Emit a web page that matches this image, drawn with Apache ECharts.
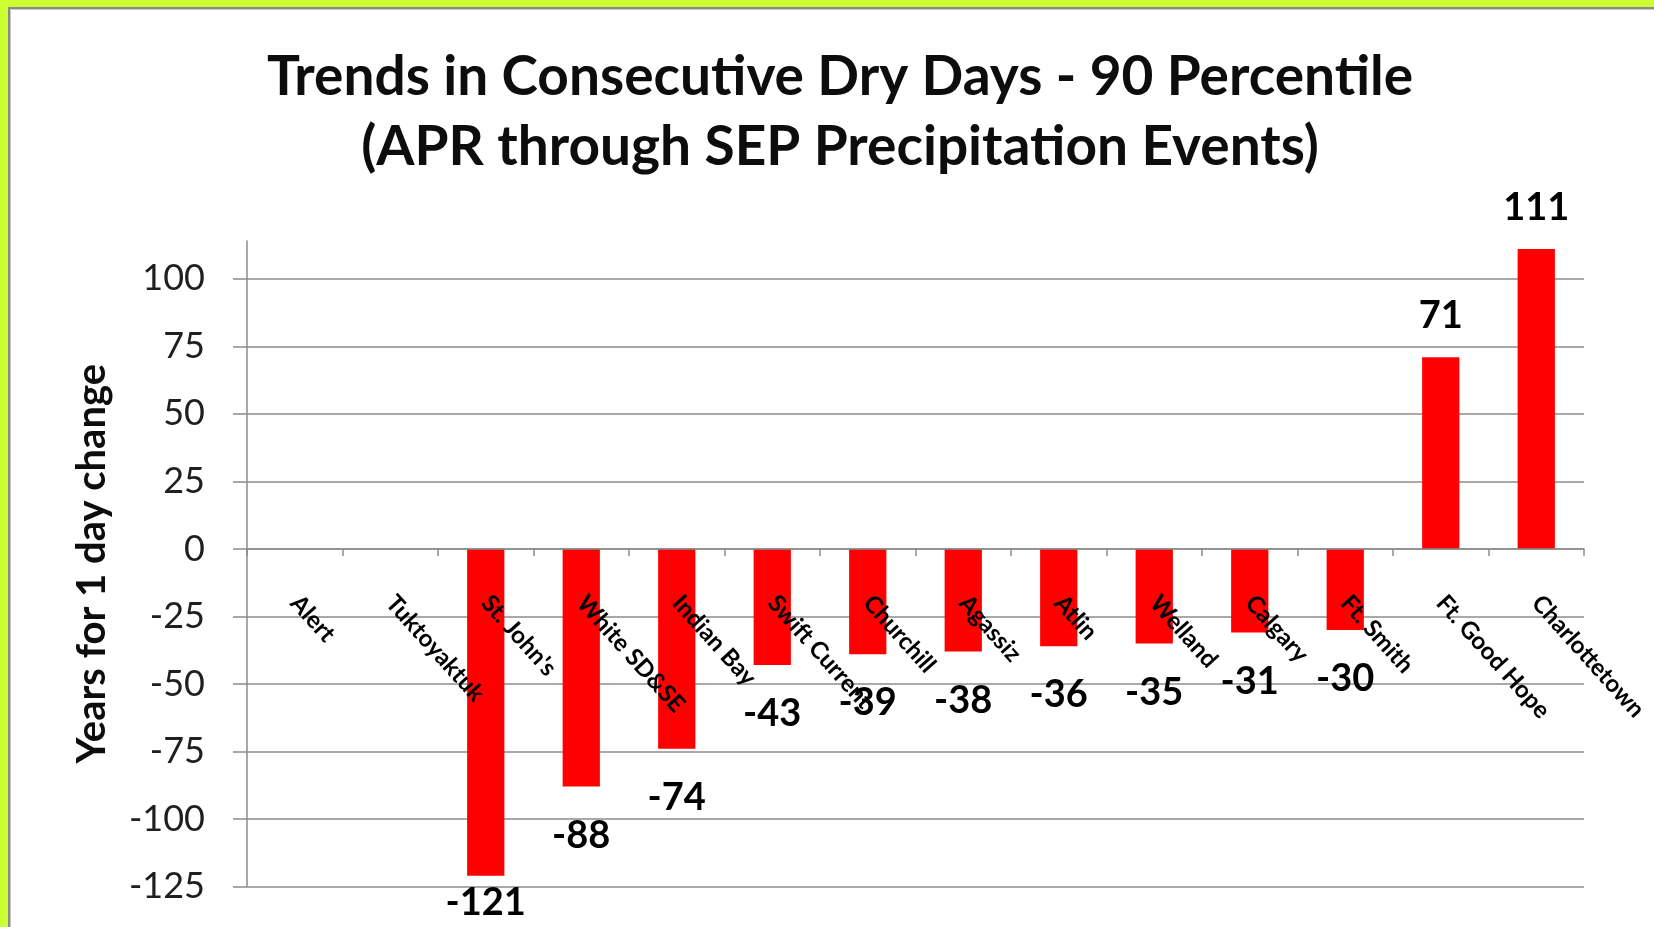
<!DOCTYPE html>
<html>
<head>
<meta charset="utf-8">
<script src="https://cdn.jsdelivr.net/npm/echarts@6/dist/echarts.min.js"></script>
<style>
html,body{margin:0;padding:0;background:#fff;}
#wrap{position:relative;width:1654px;height:927px;overflow:hidden;background:#fff;}
#chart{position:absolute;left:0;top:0;width:1654px;height:927px;}
.g{position:absolute;pointer-events:none;}
</style>
</head>
<body>
<div id="wrap">
<div id="chart"></div>
<div class="g" style="left:0;top:0;width:1654px;height:7px;background:#ccff33;"></div>
<div class="g" style="left:0;top:0;width:8px;height:927px;background:#ccff33;"></div>
<div class="g" style="left:8px;top:7px;width:1646px;height:2px;background:#8a8a8a;"></div>
<div class="g" style="left:8px;top:9px;width:1646px;height:1px;background:#c8c8c8;"></div>
<div class="g" style="left:8px;top:7px;width:2px;height:920px;background:#8a8a8a;"></div>
<div class="g" style="left:10px;top:9px;width:1px;height:918px;background:#c8c8c8;"></div>
</div>
<script>
const titleLines = ['Trends in Consecutive Dry Days - 90 Percentile', '(APR through SEP Precipitation Events)'];
const yAxisTitle = 'Years for 1 day change';
const stations = ['Alert', 'Tuktoyaktuk', "St. John's", 'White SD&SE', 'Indian Bay', 'Swift Current', 'Churchill', 'Agassiz', 'Atlin', 'Welland', 'Calgary', 'Ft. Smith', 'Ft. Good Hope', 'Charlottetown'];
const yearsFor1Day = [null, null, -121, -88, -74, -43, -39, -38, -36, -35, -31, -30, 71, 111];
const yTicks = [-125, -100, -75, -50, -25, 0, 25, 50, 75, 100];
const yMin = -125, yMax = 114, yStep = 25;

const FONT = 'Lato, "Open Sans", sans-serif';
const W = 1654, H = 927;
const GRID = { left: 247, right: 70, top: 241, bottom: 40.5 };
// move the category axis (line, ticks, labels) up to the zero line of the value scale
const gridH = H - GRID.top - GRID.bottom;
const zeroOffset = -gridH * (0 - yMin) / (yMax - yMin);

const barData = yearsFor1Day.map(v => {
  if (v === null) return null;
  const neg = v < 0;
  const item = { value: v, label: { position: neg ? 'bottom' : 'top', distance: neg ? 30 : 22 } };
  if (v < -110) item.label.distance = 8;
  return item;
});

const chart = echarts.init(document.getElementById('chart'), null, { renderer: 'canvas', width: W, height: H });
chart.setOption({
  backgroundColor: '#ffffff',
  animation: false,
  title: {
    text: titleLines.join('\n'),
    left: 840,
    top: 42,
    padding: 0,
    textAlign: 'center',
    textStyle: { fontFamily: FONT, fontWeight: 'bold', fontSize: 55, lineHeight: 70, color: '#0d0d0d' }
  },
  grid: Object.assign({ outerBoundsMode: 'none' }, GRID),
  xAxis: {
    type: 'category',
    data: stations,
    offset: zeroOffset,
    z: 5,
    axisLine: { onZero: false, lineStyle: { color: '#8c8c8c', width: 1.5 } },
    axisTick: { show: true, alignWithLabel: false, length: 7, lineStyle: { color: '#8c8c8c', width: 1.5 } },
    axisLabel: { show: true, interval: 0, rotate: -48, margin: 50, fontFamily: FONT, fontWeight: 'bold', fontSize: 24, color: '#000' }
  },
  yAxis: {
    type: 'value',
    min: yMin, max: yMax, interval: yStep,
    name: yAxisTitle,
    nameLocation: 'middle',
    nameRotate: 90,
    nameGap: 135,
    nameTextStyle: { fontFamily: FONT, fontWeight: 'bold', fontSize: 40, color: '#0d0d0d' },
    axisLine: { show: true, lineStyle: { color: '#8c8c8c', width: 1.5 } },
    axisTick: { show: true, inside: false, length: 14, customValues: yTicks, lineStyle: { color: '#8c8c8c', width: 1.5 } },
    axisLabel: { margin: 42, customValues: yTicks, fontFamily: FONT, fontSize: 36, color: '#1f1f1f' },
    splitLine: { show: true, lineStyle: { color: '#8c8c8c', width: 1.5 } }
  },
  series: [{
    type: 'bar',
    data: barData,
    barWidth: '39%',
    itemStyle: { color: '#ff0000' },
    label: { show: true, formatter: '{c}', fontFamily: FONT, fontWeight: 'bold', fontSize: 38, color: '#000' }
  }]
});
</script>
</body>
</html>
